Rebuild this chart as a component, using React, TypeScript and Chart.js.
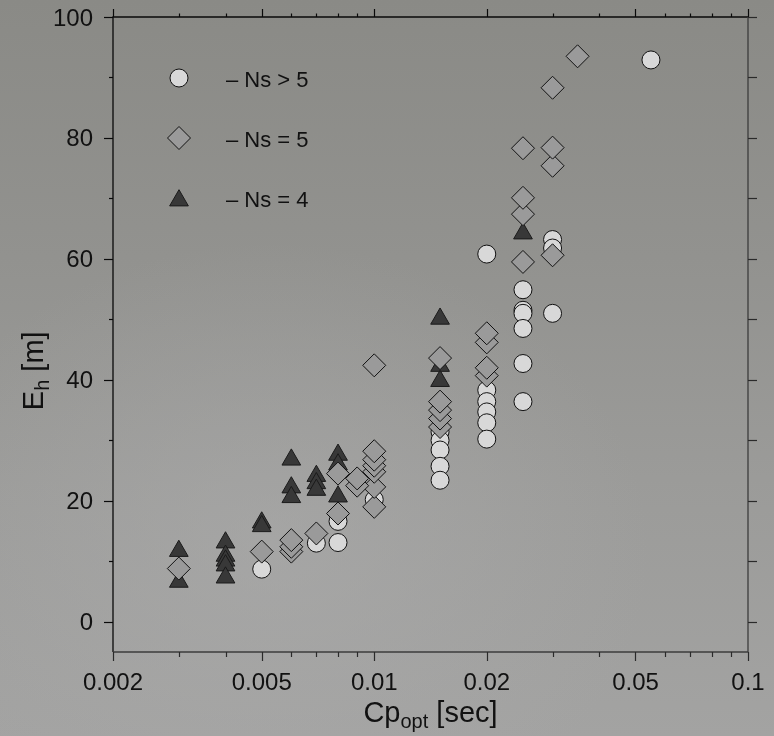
import React, { useEffect, useRef } from "react";
import { Chart, registerables } from "chart.js";

Chart.register(...registerables);

// Ns > 5 (circles), listed top to bottom so the lower markers sit on top
const nsAbove5Cp = [0.055, 0.03, 0.03, 0.02, 0.025, 0.025, 0.025, 0.03, 0.025, 0.025, 0.02, 0.02, 0.025, 0.02, 0.02, 0.015, 0.02, 0.015, 0.015, 0.015, 0.015, 0.01, 0.008, 0.008, 0.007, 0.005];
const nsAbove5Eh = [92.9, 63.2, 61.8, 60.8, 54.9, 51.5, 51.0, 51.0, 48.5, 42.7, 38.3, 36.4, 36.4, 34.7, 32.9, 31.4, 30.2, 30.0, 28.4, 25.7, 23.4, 20.2, 16.6, 13.1, 13.0, 8.7];

// Ns = 5 (diamonds), listed bottom to top
const ns5Cp = [0.003, 0.005, 0.006, 0.006, 0.006, 0.007, 0.008, 0.01, 0.01, 0.009, 0.009, 0.008, 0.01, 0.01, 0.01, 0.01, 0.015, 0.015, 0.015, 0.015, 0.02, 0.02, 0.01, 0.015, 0.02, 0.02, 0.025, 0.03, 0.025, 0.025, 0.03, 0.025, 0.03, 0.03, 0.035];
const ns5Eh = [8.8, 11.6, 11.6, 12.4, 13.5, 14.6, 17.9, 19.0, 22.3, 22.5, 23.7, 24.5, 24.8, 25.8, 26.8, 28.2, 32.2, 33.6, 35.0, 36.4, 40.7, 42.0, 42.4, 43.6, 46.2, 47.7, 59.5, 60.6, 67.4, 70.1, 75.4, 78.3, 78.4, 88.3, 93.5];

// Ns = 4 (triangles), listed top to bottom
const ns4Cp = [0.025, 0.015, 0.015, 0.015, 0.008, 0.006, 0.008, 0.007, 0.007, 0.006, 0.007, 0.008, 0.006, 0.005, 0.005, 0.004, 0.003, 0.004, 0.004, 0.004, 0.004, 0.003];
const ns4Eh = [64.2, 50.1, 42.3, 39.8, 27.6, 26.8, 26.0, 24.1, 22.9, 22.2, 21.8, 20.7, 20.6, 16.4, 15.8, 13.1, 11.7, 10.9, 10.1, 9.3, 7.3, 6.6];

const xMajorTicks = [0.002, 0.005, 0.01, 0.02, 0.05, 0.1];
const xTickLabels = ["0.002", "0.005", "0.01", "0.02", "0.05", "0.1"];
const xMinorTicks = [0.003, 0.004, 0.006, 0.007, 0.008, 0.009, 0.03, 0.04, 0.06, 0.07, 0.08, 0.09];
const yMajorTicks = [0, 20, 40, 60, 80, 100];
const yMinorTicks = [10, 30, 50, 70, 90];

const legendLabels = ["\u2013 Ns > 5", "\u2013 Ns = 5", "\u2013 Ns = 4"];

const FONT = "'Liberation Sans', Arial, Helvetica, sans-serif";

const CIRCLE = { style: "circle", radius: 9, fill: "#d8d8d8", stroke: "#111111" };
const DIAMOND = { style: "rectRot", radius: 11.5, fill: "#9a9a9a", stroke: "#111111" };
const TRIANGLE = { style: "triangle", radius: 10.8, fill: "#383838", stroke: "#1a1a1a" };

function pts(xs: number[], ys: number[]) {
  return xs.map((x, i) => ({ x, y: ys[i] }));
}

function drawMarker(ctx: CanvasRenderingContext2D, m: any, x: number, y: number) {
  const r = m.radius;
  ctx.beginPath();
  if (m.style === "circle") {
    ctx.arc(x, y, r, 0, Math.PI * 2);
  } else if (m.style === "rectRot") {
    ctx.moveTo(x - r, y);
    ctx.lineTo(x, y - r);
    ctx.lineTo(x + r, y);
    ctx.lineTo(x, y + r);
    ctx.closePath();
  } else {
    ctx.moveTo(x, y - r);
    ctx.lineTo(x + 0.866 * r, y + 0.5 * r);
    ctx.lineTo(x - 0.866 * r, y + 0.5 * r);
    ctx.closePath();
  }
  ctx.fillStyle = m.fill;
  ctx.fill();
  ctx.lineWidth = 1;
  ctx.strokeStyle = m.stroke;
  ctx.stroke();
}

const framePlugin = {
  id: "frame",
  afterDatasetsDraw(chart: any) {
    const { ctx, chartArea: a, scales } = chart;
    const xs = scales.x;
    const ys = scales.y;
    ctx.save();

    // axis lines
    ctx.lineWidth = 1.3;
    ctx.strokeStyle = "#0a0a0a";
    ctx.beginPath();
    ctx.moveTo(a.left, a.bottom);
    ctx.lineTo(a.left, a.top);
    ctx.lineTo(a.right, a.top);
    ctx.stroke();
    ctx.strokeStyle = "#3c3c3c";
    ctx.beginPath();
    ctx.moveTo(a.right, a.top);
    ctx.lineTo(a.right, a.bottom);
    ctx.lineTo(a.left, a.bottom);
    ctx.stroke();

    // x ticks (bottom outward, top outward)
    ctx.lineWidth = 1.2;
    const xTick = (v: number, lenB: number, lenT: number) => {
      const px = Math.round(xs.getPixelForValue(v)) + 0.5;
      ctx.strokeStyle = "#2a2a2a";
      ctx.beginPath();
      ctx.moveTo(px, a.bottom);
      ctx.lineTo(px, a.bottom + lenB);
      ctx.stroke();
      ctx.strokeStyle = "#0a0a0a";
      ctx.beginPath();
      ctx.moveTo(px, a.top);
      ctx.lineTo(px, a.top - lenT);
      ctx.stroke();
    };
    xMajorTicks.forEach((v) => xTick(v, 9, 8));
    xMinorTicks.forEach((v) => xTick(v, 5, 3.5));

    // y ticks (left outward, right outward)
    const yTick = (v: number, lenL: number) => {
      const py = Math.round(ys.getPixelForValue(v)) + 0.5;
      ctx.strokeStyle = "#0a0a0a";
      ctx.beginPath();
      ctx.moveTo(a.left, py);
      ctx.lineTo(a.left - lenL, py);
      ctx.stroke();
      ctx.strokeStyle = "#2a2a2a";
      ctx.beginPath();
      ctx.moveTo(a.right, py);
      ctx.lineTo(a.right + 9, py);
      ctx.stroke();
    };
    yMajorTicks.forEach((v) => yTick(v, 9));
    yMinorTicks.forEach((v) => yTick(v, 4));

    // tick labels
    ctx.fillStyle = "#111111";
    ctx.font = `24px ${FONT}`;
    ctx.textAlign = "center";
    ctx.textBaseline = "alphabetic";
    xMajorTicks.forEach((v, i) => {
      ctx.fillText(xTickLabels[i], xs.getPixelForValue(v), a.bottom + 37.5);
    });
    ctx.textAlign = "right";
    yMajorTicks.forEach((v) => {
      ctx.fillText(String(v), a.left - 20, ys.getPixelForValue(v) + 8.5);
    });

    // x title: Cp_opt [sec]
    const big = `29px ${FONT}`;
    const small = `20px ${FONT}`;
    ctx.font = big;
    const w1 = ctx.measureText("Cp").width;
    const w3 = ctx.measureText(" [sec]").width;
    ctx.font = small;
    const w2 = ctx.measureText("opt").width;
    const total = w1 + w2 + w3;
    let sx = (a.left + a.right) / 2 - total / 2;
    const by = a.bottom + 70;
    ctx.textAlign = "left";
    ctx.font = big;
    ctx.fillText("Cp", sx, by);
    sx += w1;
    ctx.font = small;
    ctx.fillText("opt", sx, by + 6);
    sx += w2;
    ctx.font = big;
    ctx.fillText(" [sec]", sx, by);

    // y title: E_h [m]
    ctx.save();
    ctx.translate(a.left - 70, ys.getPixelForValue(41.5));
    ctx.rotate(-Math.PI / 2);
    ctx.font = big;
    const e1 = ctx.measureText("E").width;
    const e3 = ctx.measureText(" [m]").width;
    ctx.font = small;
    const e2 = ctx.measureText("h").width;
    let tx = -(e1 + e2 + e3) / 2;
    ctx.font = big;
    ctx.fillText("E", tx, 0);
    tx += e1;
    ctx.font = small;
    ctx.fillText("h", tx, 6);
    tx += e2;
    ctx.font = big;
    ctx.fillText(" [m]", tx, 0);
    ctx.restore();

    // legend
    const markers = [CIRCLE, DIAMOND, TRIANGLE];
    const lx = a.left + 66;
    ctx.font = `22px ${FONT}`;
    ctx.textAlign = "left";
    markers.forEach((m, i) => {
      const cy = a.top + 61 + i * 60;
      drawMarker(ctx, m, lx, cy + (m.style === "triangle" ? 2.5 : 0));
      ctx.fillStyle = "#111111";
      ctx.fillText(legendLabels[i], lx + 47, cy + 8.5);
    });

    ctx.restore();
  },
};

function markerDataset(label: string, data: any[], m: any, order: number) {
  return {
    label,
    data,
    pointStyle: m.style,
    pointRadius: m.radius,
    pointHoverRadius: m.radius,
    backgroundColor: m.fill,
    borderColor: m.stroke,
    borderWidth: 1,
    showLine: false,
    order,
  };
}

export default function App() {
  const ref = useRef<HTMLCanvasElement | null>(null);

  useEffect(() => {
    if (!ref.current) return;
    const chart = new Chart(ref.current, {
      type: "scatter",
      data: {
        datasets: [
          markerDataset("Ns = 5", pts(ns5Cp, ns5Eh), DIAMOND, 0),
          markerDataset("Ns > 5", pts(nsAbove5Cp, nsAbove5Eh), CIRCLE, 1),
          markerDataset("Ns = 4", pts(ns4Cp, ns4Eh), TRIANGLE, 2),
        ],
      },
      options: {
        responsive: false,
        animation: false,
        devicePixelRatio: 1,
        events: [],
        layout: { padding: { left: 113, right: 26, top: 17, bottom: 84 } },
        plugins: { legend: { display: false }, tooltip: { enabled: false } },
        scales: {
          x: { type: "logarithmic", min: 0.002, max: 0.1, display: false },
          y: { type: "linear", min: -5, max: 100, display: false },
        },
      },
      plugins: [framePlugin],
    } as any);
    return () => chart.destroy();
  }, []);

  return (
    <div
      style={{
        position: "fixed",
        left: 0,
        top: 0,
        width: 774,
        height: 736,
        background:
          "radial-gradient(ellipse 70% 60% at 35% 75%, rgba(172,172,172,0.55), rgba(172,172,172,0) 70%), linear-gradient(180deg, #8a8a86 0%, #92928f 35%, #9b9b99 65%, #a3a3a2 100%)",
      }}
    >
      <canvas ref={ref} width={774} height={736} style={{ display: "block" }} />
    </div>
  );
}
